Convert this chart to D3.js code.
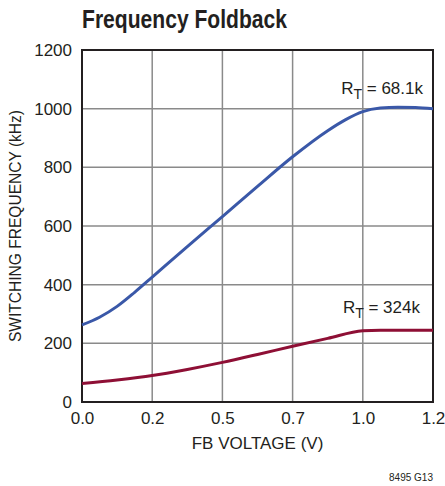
<!DOCTYPE html>
<html><head><meta charset="utf-8">
<script src="https://cdn.jsdelivr.net/npm/d3@7"></script>
<style>
body{margin:0;background:#fff;}
text{font-family:"Liberation Sans",Arial,sans-serif;fill:#231f20;}
</style></head><body>
<svg id="c" width="445" height="486"></svg>
<script>
const xTickValues = [0, 0.24, 0.48, 0.72, 0.96, 1.2];
const xTickLabels = ["0.0", "0.2", "0.5", "0.7", "1.0", "1.2"];
const yTickValues = [0, 200, 400, 600, 800, 1000, 1200];
const fbVoltage68 = [0, 0.06, 0.12, 0.18, 0.24, 0.36, 0.48, 0.60, 0.72, 0.84, 0.90, 0.96, 1.02, 1.08, 1.14, 1.2];
const freq68 = [263, 289, 326, 374, 426, 530, 632, 735, 836, 925, 962, 990, 1002, 1005, 1004, 1000];
const fbVoltage324 = [0, 0.12, 0.24, 0.36, 0.48, 0.60, 0.72, 0.84, 0.96, 1.02, 1.2];
const freq324 = [63, 75, 90, 111, 135, 162, 190, 217, 243, 245, 245];

const svg = d3.select("#c");
const L = 82, R = 433, T = 50, B = 402;
const x = d3.scaleLinear().domain([0, 1.2]).range([L, R]);
const y = d3.scaleLinear().domain([0, 1200]).range([B, T]);

// grid
svg.append("g").selectAll("line").data(xTickValues.slice(1, -1)).join("line")
  .attr("x1", d => x(d)).attr("x2", d => x(d)).attr("y1", T).attr("y2", B)
  .attr("stroke", "#8a8a8a").attr("stroke-width", 1.5);
svg.append("g").selectAll("line").data(yTickValues.slice(1, -1)).join("line")
  .attr("y1", d => y(d)).attr("y2", d => y(d)).attr("x1", L).attr("x2", R)
  .attr("stroke", "#8a8a8a").attr("stroke-width", 1.5);

// frame
svg.append("rect").attr("x", L).attr("y", T).attr("width", R - L).attr("height", B - T)
  .attr("fill", "none").attr("stroke", "#231f20").attr("stroke-width", 2);

const FONT = "'Liberation Sans',Arial,sans-serif";
const xAxis = d3.axisBottom(x).tickValues(xTickValues).tickSize(0).tickPadding(10)
  .tickFormat((d, i) => xTickLabels[i]);
const gx = svg.append("g").attr("transform", `translate(0,${B})`).call(xAxis);
gx.select(".domain").remove();
gx.selectAll("text").attr("font-size", 17).style("font-family", FONT).attr("fill", "#231f20");

const yAxis = d3.axisLeft(y).tickValues(yTickValues).tickSize(0).tickPadding(10).tickFormat(d3.format("d"));
const gy = svg.append("g").attr("transform", `translate(${L},0)`).call(yAxis);
gy.select(".domain").remove();
gy.selectAll("text").attr("font-size", 17).style("font-family", FONT).attr("fill", "#231f20");

// curves
const line = d3.line().x(d => x(d[0])).y(d => y(d[1])).curve(d3.curveMonotoneX);
svg.append("path").datum(fbVoltage68.map((v, i) => [v, freq68[i]]))
  .attr("d", line).attr("fill", "none").attr("stroke", "#3a58a8").attr("stroke-width", 3);
svg.append("path").datum(fbVoltage324.map((v, i) => [v, freq324[i]]))
  .attr("d", line).attr("fill", "none").attr("stroke", "#8e0f35").attr("stroke-width", 3);

// curve labels
function rlabel(xr, yb, val) {
  const t = svg.append("text").attr("x", xr).attr("y", yb).attr("text-anchor", "end").attr("font-size", 17);
  t.append("tspan").text("R");
  t.append("tspan").attr("font-size", 14).attr("dy", 5).text("T");
  t.append("tspan").attr("dy", -5).text(" = " + val);
}
rlabel(423, 94, "68.1k");
rlabel(420, 313, "324k");

// titles
svg.append("text").attr("x", 82).attr("y", 28).attr("font-size", 26).attr("font-weight", "bold")
  .attr("textLength", 205).attr("lengthAdjust", "spacingAndGlyphs")
  .text("Frequency Foldback");
svg.append("text").attr("x", (L + R) / 2).attr("y", 449).attr("text-anchor", "middle").attr("font-size", 17)
  .text("FB VOLTAGE (V)");
svg.append("text").attr("transform", `translate(21,${(T + B) / 2}) rotate(-90)`).attr("text-anchor", "middle")
  .attr("font-size", 16).attr("textLength", 232).attr("lengthAdjust", "spacingAndGlyphs")
  .text("SWITCHING FREQUENCY (kHz)");
svg.append("text").attr("x", 433).attr("y", 481).attr("text-anchor", "end").attr("font-size", 10)
  .text("8495 G13");
</script></body></html>
